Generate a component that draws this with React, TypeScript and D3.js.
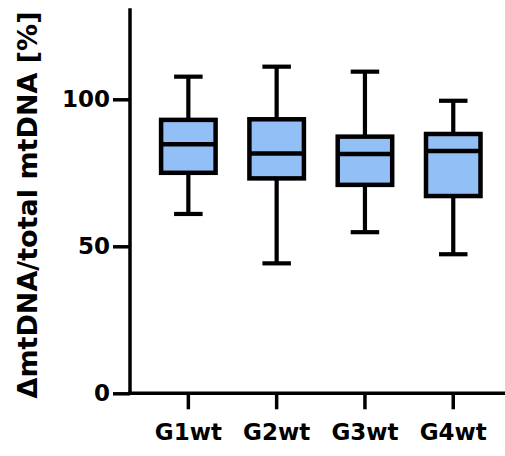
import { useEffect, useRef } from "react";
import * as d3 from "d3";

const groups = ["G1wt", "G2wt", "G3wt", "G4wt"];
const whiskerLow = [61.0, 44.2, 54.8, 47.3];
const q1 = [75.0, 73.1, 70.9, 67.1];
const median = [84.7, 81.6, 81.4, 82.4];
const q3 = [93.0, 93.2, 87.3, 88.2];
const whiskerHigh = [107.7, 111.1, 109.4, 99.5];
const yTicks = [0, 50, 100];

const W = 505;
const H = 456;
const FILL = "#93bff7";
const FONT = "'DejaVu Sans', Arial, sans-serif";

export default function App() {
  const svgRef = useRef<SVGSVGElement>(null);

  useEffect(() => {
    if (!svgRef.current) return;
    const svg = d3.select(svgRef.current);
    svg.selectAll("*").remove();

    const axisX = 130;
    const axisY = 393.3;

    const y = d3.scaleLinear().domain([0, 100]).range([axisY, 99.3]);
    const x = d3.scaleBand<string>().domain(groups).range([144.2, 497.4]).padding(0);

    const boxW = 54.5;
    const capW = 28.5;

    // y axis
    const yAxis = svg
      .append("g")
      .attr("transform", `translate(${axisX},0)`)
      .call(d3.axisLeft(y).tickValues(yTicks).tickSize(17).tickSizeOuter(0).tickPadding(3).tickFormat(d3.format("d")));
    yAxis.select(".domain").remove();
    yAxis.selectAll("line").attr("stroke", "#000").attr("stroke-width", 3.5);
    yAxis
      .selectAll("text")
      .attr("font-family", FONT)
      .attr("font-weight", "bold")
      .attr("font-size", 23)
      .attr("fill", "#000");
    svg
      .append("line")
      .attr("x1", axisX)
      .attr("x2", axisX)
      .attr("y1", y(131))
      .attr("y2", axisY + 1.7)
      .attr("stroke", "#000")
      .attr("stroke-width", 3.5);

    // x axis
    const xAxis = svg
      .append("g")
      .attr("transform", `translate(0,${axisY})`)
      .call(d3.axisBottom(x).tickSize(16).tickSizeOuter(0).tickPadding(14));
    xAxis.select(".domain").remove();
    xAxis.selectAll("line").attr("stroke", "#000").attr("stroke-width", 3.5);
    xAxis
      .selectAll("text")
      .attr("font-family", FONT)
      .attr("font-weight", "bold")
      .attr("font-size", 23)
      .attr("fill", "#000");
    svg
      .append("line")
      .attr("x1", axisX - 1.7)
      .attr("x2", W)
      .attr("y1", axisY)
      .attr("y2", axisY)
      .attr("stroke", "#000")
      .attr("stroke-width", 3.5);

    // y label
    svg
      .append("text")
      .attr("transform", `translate(37,205) rotate(-90)`)
      .attr("text-anchor", "middle")
      .attr("font-family", FONT)
      .attr("font-weight", "bold")
      .attr("font-size", 27)
      .attr("fill", "#000")
      .text("\u0394mtDNA/total mtDNA [%]");

    // boxes
    const boxes = svg
      .append("g")
      .selectAll("g")
      .data(groups)
      .join("g")
      .attr("transform", (d) => `translate(${(x(d) ?? 0) + x.bandwidth() / 2},0)`);

    boxes
      .append("line")
      .attr("y1", (_, i) => y(whiskerHigh[i]))
      .attr("y2", (_, i) => y(whiskerLow[i]))
      .attr("stroke", "#000")
      .attr("stroke-width", 4.2);

    boxes
      .append("line")
      .attr("x1", -capW / 2)
      .attr("x2", capW / 2)
      .attr("y1", (_, i) => y(whiskerHigh[i]))
      .attr("y2", (_, i) => y(whiskerHigh[i]))
      .attr("stroke", "#000")
      .attr("stroke-width", 4.2);

    boxes
      .append("line")
      .attr("x1", -capW / 2)
      .attr("x2", capW / 2)
      .attr("y1", (_, i) => y(whiskerLow[i]))
      .attr("y2", (_, i) => y(whiskerLow[i]))
      .attr("stroke", "#000")
      .attr("stroke-width", 4.2);

    boxes
      .append("rect")
      .attr("x", -boxW / 2)
      .attr("width", boxW)
      .attr("y", (_, i) => y(q3[i]))
      .attr("height", (_, i) => y(q1[i]) - y(q3[i]))
      .attr("fill", FILL)
      .attr("stroke", "#000")
      .attr("stroke-width", 4.5);

    boxes
      .append("line")
      .attr("x1", -boxW / 2)
      .attr("x2", boxW / 2)
      .attr("y1", (_, i) => y(median[i]))
      .attr("y2", (_, i) => y(median[i]))
      .attr("stroke", "#000")
      .attr("stroke-width", 4.5);
  }, []);

  return (
    <svg
      ref={svgRef}
      width={W}
      height={H}
      style={{ position: "absolute", left: 0, top: 0, background: "#fff" }}
    />
  );
}
